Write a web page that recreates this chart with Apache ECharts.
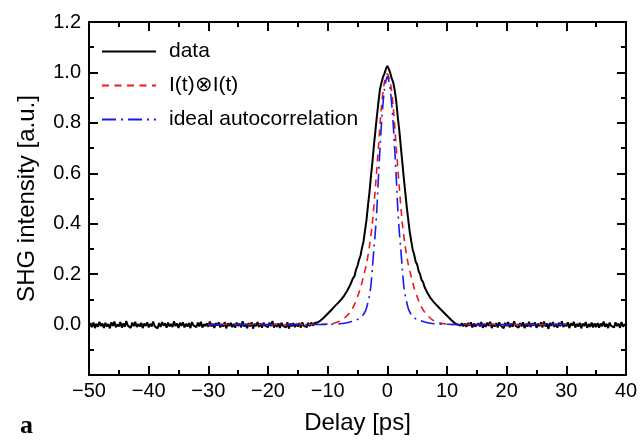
<!DOCTYPE html>
<html>
<head>
<meta charset="utf-8">
<script src="https://cdn.jsdelivr.net/npm/echarts@6/dist/echarts.min.js"></script>
<style>html,body{margin:0;padding:0;background:#fff}#c{width:643px;height:440px}</style>
</head>
<body>
<div id="c"></div>
<script>
// measured SHG signal, sampled from -50 ps in 0.25 ps steps
const dataStart = -50;
const dataStep = 0.25;
const dataIntensity = [
-0.012,0.006,-0.010,0.008,-0.014,0.003,-0.009,0.011,-0.006,0.004,-0.013,0.007,-0.008,0.002,-0.015,0.009,-0.005,0.012,-0.011,0.001,
-0.007,0.010,-0.012,0.005,-0.009,0.014,-0.004,0.003,-0.013,0.008,-0.006,0.011,-0.010,0.002,-0.008,0.007,-0.014,0.004,-0.005,0.009,
-0.011,0.003,-0.008,0.012,-0.006,0.001,-0.015,0.006,-0.009,0.010,-0.004,0.005,-0.012,0.008,-0.007,0.002,-0.010,0.013,-0.006,0.004,
-0.013,0.007,-0.005,0.009,-0.011,0.003,-0.008,0.006,-0.014,0.010,-0.003,0.004,-0.010,0.008,-0.007,0.011,-0.012,0.002,-0.006,0.005,
-0.009,0.012,-0.007,0.003,-0.013,0.006,-0.004,0.009,-0.011,0.002,-0.008,0.010,-0.015,0.005,-0.006,0.007,-0.010,0.003,-0.012,0.008,
-0.005,0.004,-0.011,0.013,-0.008,0.002,-0.014,0.006,-0.007,0.009,-0.016,0.003,-0.006,0.010,-0.009,0.005,-0.012,0.007,-0.004,0.002,
-0.010,0.008,-0.006,0.014,-0.012,0.003,-0.009,0.005,-0.013,0.007,-0.005,0.002,-0.011,0.009,-0.016,0.004,-0.007,0.006,-0.010,0.003,
-0.008,0.006,-0.012,0.009,-0.005,0.002,-0.010,0.007,-0.006,0.008,-0.004,0.005,-0.001,0.008,0.003,0.015,0.012,0.025,0.022,0.037,
0.035,0.049,0.047,0.061,0.058,0.074,0.071,0.086,0.083,0.099,0.097,0.114,0.113,0.133,0.137,0.156,0.161,0.184,0.192,0.218,
0.232,0.256,0.273,0.304,0.328,0.372,0.413,0.471,0.523,0.587,0.644,0.711,0.768,0.826,0.880,0.931,0.957,0.980,0.994,1.013,
1.026,1.014,0.997,0.976,0.959,0.928,0.884,0.823,0.771,0.708,0.646,0.583,0.526,0.468,0.417,0.368,0.332,0.298,0.277,0.249,
0.238,0.212,0.199,0.176,0.168,0.148,0.144,0.124,0.122,0.105,0.105,0.090,0.091,0.077,0.079,0.065,0.067,0.053,0.055,0.041,
0.043,0.029,0.031,0.017,0.020,0.007,0.011,0.000,0.006,-0.004,0.005,-0.007,0.004,-0.009,0.006,-0.005,0.009,-0.011,0.004,-0.008,
-0.012,0.005,-0.007,0.010,-0.013,0.003,-0.009,0.008,-0.005,0.011,-0.014,0.002,-0.008,0.006,-0.011,0.009,-0.004,0.003,-0.015,0.007,
-0.006,0.010,-0.011,0.004,-0.009,0.013,-0.005,0.002,-0.012,0.006,-0.007,0.009,-0.014,0.003,-0.008,0.011,-0.010,0.005,-0.004,0.008,
-0.013,0.003,-0.006,0.009,-0.011,0.012,-0.008,0.004,-0.017,0.006,-0.005,0.010,-0.009,0.002,-0.012,0.007,-0.006,0.013,-0.010,0.003,
-0.007,0.009,-0.014,0.005,-0.004,0.011,-0.012,0.003,-0.008,0.007,-0.015,0.004,-0.006,0.010,-0.013,0.002,-0.009,0.008,-0.011,0.005,
-0.010,0.006,-0.012,0.004,-0.007,0.012,-0.009,0.003,-0.014,0.008,-0.005,0.002,-0.011,0.009,-0.006,0.004,-0.013,0.010,-0.008,0.001,
-0.006
];

// I(t) convolved with I(t)
const convDelay = [-30,-25,-20,-15,-12,-10,-9,-8,-7.5,-7,-6.5,-6,-5.5,-5,-4.5,-4,-3.5,-3,-2.5,-2,-1.5,-1,-0.5,0,0.5,1,1.5,2,2.5,3,3.5,4,4.5,5,5.5,6,6.5,7,7.5,8,9,10,12,15,20,25,30];
const convValue = [0,0,0,0,0,0.002,0.005,0.013,0.020,0.030,0.042,0.058,0.080,0.110,0.145,0.190,0.240,0.310,0.405,0.545,0.700,0.860,0.960,0.995,0.960,0.860,0.700,0.545,0.405,0.310,0.240,0.190,0.145,0.110,0.080,0.058,0.042,0.030,0.020,0.013,0.005,0.002,0,0,0,0,0];

// ideal autocorrelation
const idealDelay = [-30,-25,-20,-15,-12,-10,-8,-7,-6,-5,-4.5,-4,-3.75,-3.5,-3.25,-3,-2.75,-2.5,-2.25,-2,-1.75,-1.5,-1.25,-1,-0.75,-0.5,-0.25,0,0.25,0.5,0.75,1,1.25,1.5,1.75,2,2.25,2.5,2.75,3,3.25,3.5,3.75,4,4.5,5,6,7,8,10,12,15,20,25,30];
const idealValue = [0,0,0,0,0,0.001,0.003,0.006,0.012,0.020,0.028,0.040,0.050,0.065,0.088,0.115,0.155,0.225,0.300,0.370,0.460,0.580,0.690,0.790,0.870,0.930,0.965,0.985,0.965,0.930,0.870,0.790,0.690,0.580,0.460,0.370,0.300,0.225,0.155,0.115,0.088,0.065,0.050,0.040,0.028,0.020,0.012,0.006,0.003,0.001,0,0,0,0,0];

const xTicks = {min: -50, max: 40, interval: 10};
const yTicks = {min: -0.2, max: 1.2, interval: 0.2};
const seriesNames = ['data', 'I(t)\u2297I(t)', 'ideal autocorrelation'];

const dataPairs = dataIntensity.map((v, i) => [dataStart + i * dataStep, v]);
const convPairs = convDelay.map((d, i) => [d, convValue[i]]);
const idealPairs = idealDelay.map((d, i) => [d, idealValue[i]]);

const FONT = 'Liberation Sans, Arial, Helvetica, sans-serif';
const axisCommon = {
  axisLine: {show: true, onZero: false, lineStyle: {color: '#000', width: 2}},
  axisTick: {show: true, inside: true, length: 9, lineStyle: {color: '#000', width: 2}},
  minorTick: {show: true, splitNumber: 2, length: 5, lineStyle: {color: '#000', width: 2}},
  splitLine: {show: false}
};
const fmtX = v => v < 0 ? '\u2212' + Math.abs(v) : String(v);
const fmtY = v => v < -0.05 ? '' : v.toFixed(1);

const chart = echarts.init(document.getElementById('c'), null, {renderer: 'canvas'});
chart.setOption({
  animation: false,
  backgroundColor: '#fff',
  title: {text: 'a', left: 15, top: 408, textStyle: {fontFamily: 'Liberation Serif, Times New Roman, serif', fontWeight: 'bold', fontSize: 26, color: '#000'}},
  grid: {left: 89, right: 17, top: 22, bottom: 65},
  legend: {
    orient: 'vertical', left: 101, top: 41, padding: 0,
    itemWidth: 54, itemHeight: 20, itemGap: 13,
    itemStyle: {opacity: 0, borderWidth: 0},
    lineStyle: {inherit: true},
    textStyle: {fontFamily: FONT, fontSize: 21, color: '#000', padding: [0, 0, 0, 8]},
    data: seriesNames
  },
  xAxis: [
    Object.assign({type: 'value', position: 'bottom', min: xTicks.min, max: xTicks.max, interval: xTicks.interval,
      name: 'Delay [ps]', nameLocation: 'middle', nameGap: 36,
      nameTextStyle: {fontFamily: FONT, fontSize: 24, color: '#000'},
      axisLabel: {show: true, margin: 6, fontFamily: FONT, fontSize: 20, color: '#000', formatter: fmtX}}, axisCommon),
    Object.assign({type: 'value', position: 'top', min: xTicks.min, max: xTicks.max, interval: xTicks.interval,
      axisLabel: {show: false}}, axisCommon)
  ],
  yAxis: [
    Object.assign({type: 'value', position: 'left', min: yTicks.min, max: yTicks.max, interval: yTicks.interval,
      name: 'SHG intensity [a.u.]', nameLocation: 'middle', nameGap: 50,
      nameTextStyle: {fontFamily: FONT, fontSize: 24, color: '#000'},
      axisLabel: {show: true, margin: 8, fontFamily: FONT, fontSize: 20, color: '#000', formatter: fmtY}}, axisCommon),
    Object.assign({type: 'value', position: 'right', min: yTicks.min, max: yTicks.max, interval: yTicks.interval,
      axisLabel: {show: false}}, axisCommon)
  ],
  series: [
    {name: seriesNames[0], type: 'line', data: dataPairs, symbol: 'none', showSymbol: false,
      lineStyle: {color: '#000', width: 2}, itemStyle: {color: '#000'}, z: 2},
    {name: seriesNames[1], type: 'line', data: convPairs, symbol: 'none', showSymbol: false, smooth: 0.3,
      lineStyle: {color: '#f01818', width: 1.6, type: [7, 5.5]}, itemStyle: {color: '#f01818'}, z: 3},
    {name: seriesNames[2], type: 'line', data: idealPairs, symbol: 'none', showSymbol: false, smooth: 0.3,
      lineStyle: {color: '#1818f0', width: 1.6, type: [14, 5, 2, 5]}, itemStyle: {color: '#1818f0'}, z: 4}
  ]
});
</script>
</body>
</html>
